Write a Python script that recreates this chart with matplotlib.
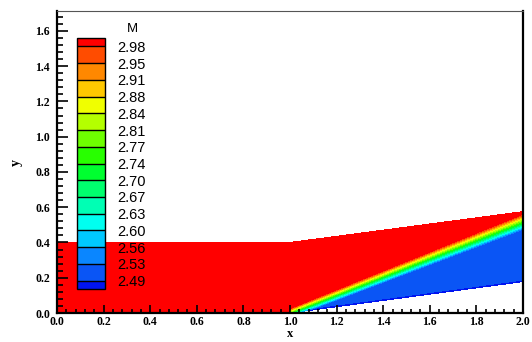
import numpy as np
import matplotlib
matplotlib.use("Agg")
import matplotlib.pyplot as plt
from matplotlib.colors import ListedColormap, BoundaryNorm
from matplotlib.ticker import MultipleLocator, FormatStrFormatter

# channel walls
wall_x = [0.0, 1.0, 2.0]
wall_lower = [0.0, 0.0, 0.178]
wall_upper = [0.40, 0.40, 0.575]

# oblique shock leaving the ramp corner
shock_x = [1.0, 2.0]
shock_y = [0.0, 0.518]
shock_width = [0.055, 0.092]

mach_inflow = 3.0
mach_post = 2.51
mach_wall = 2.47
wall_layer = 0.018

# contour levels of M and their legend labels
levels = [2.49, 2.525, 2.56, 2.595, 2.63, 2.665, 2.70, 2.735,
          2.77, 2.805, 2.84, 2.875, 2.91, 2.945, 2.98]
level_labels = ["2.49", "2.53", "2.56", "2.60", "2.63", "2.67", "2.70", "2.74",
                "2.77", "2.81", "2.84", "2.88", "2.91", "2.95", "2.98"]
# band colours, lowest (below 2.49) to highest (above 2.98)
band_colors = ["#0014f0", "#0a55f5", "#0a86ff", "#00c8ff", "#00fff0", "#00ffb4",
               "#00ff6e", "#00ff30", "#28ff00", "#6eff00", "#b4ff00", "#f0ff00",
               "#ffc800", "#ff8800", "#ff4c00", "#ff0000"]

# build the Mach field on a grid that follows the walls
xs = np.linspace(0.0, 2.0, 801)
eta = np.linspace(0.0, 1.0, 301)
X, E = np.meshgrid(xs, eta)
y_lo = np.interp(X, wall_x, wall_lower)
y_hi = np.interp(X, wall_x, wall_upper)
Y = y_lo + E * (y_hi - y_lo)

ys = np.interp(X, shock_x, shock_y)
w = np.interp(X, shock_x, shock_width)
s = np.clip((Y - ys) / w + 0.5, 0.0, 1.0)
s[X < 1.0] = 1.0
M = mach_post + (mach_inflow - mach_post) * s
near_wall = np.clip(1.0 - (Y - y_lo) / wall_layer, 0.0, 1.0)
M -= (mach_post - mach_wall) * near_wall * (1.0 - s)

cmap = ListedColormap(band_colors[1:-1])
cmap.set_under(band_colors[0])
cmap.set_over(band_colors[-1])
norm = BoundaryNorm(levels, cmap.N)

fig = plt.figure(figsize=(5.32, 3.42), dpi=100)
ax = fig.add_axes([57 / 532, 29 / 342, 466 / 532, 302 / 342])
cs = ax.contourf(X, Y, M, levels=levels, cmap=cmap, norm=norm, extend="both")

ax.set_xlim(0, 2.0)
ax.set_ylim(0, 1.713)
for a in (ax.xaxis, ax.yaxis):
    a.set_major_locator(MultipleLocator(0.2))
    a.set_minor_locator(MultipleLocator(0.04))
    a.set_major_formatter(FormatStrFormatter("%.1f"))

ax.tick_params(axis="x", which="major", direction="in", length=5.8, width=1.2, pad=2)
ax.tick_params(axis="x", which="minor", direction="in", length=2.9, width=1.2)
ax.tick_params(axis="y", which="major", direction="in", length=8, width=1.2, pad=5)
ax.tick_params(axis="y", which="minor", direction="in", length=4.3, width=1.2)
for lab in ax.get_xticklabels() + ax.get_yticklabels():
    lab.set_family("Liberation Serif")
    lab.set_weight("bold")
    lab.set_fontsize(8.5)

for side in ("left", "bottom", "right"):
    ax.spines[side].set_linewidth(1.6)
ax.spines["top"].set_linewidth(0.8)
ax.spines["top"].set_color("#555555")

ax.set_xlabel("x", family="Liberation Serif", weight="bold", fontsize=9, labelpad=0)
ax.set_ylabel("y", family="Liberation Serif", weight="bold", fontsize=10, labelpad=9)

# Tecplot style legend inside the plot
cax = fig.add_axes([77 / 532, (342 - 289) / 342, 27.5 / 532, 251 / 342])
cb = fig.colorbar(cs, cax=cax, extend="both", extendrect=True,
                  extendfrac=0.5 / 14, drawedges=True, ticks=levels)
cb.ax.set_yticklabels(level_labels)
cb.ax.tick_params(length=0, pad=9, labelsize=10.5)
for lab in cb.ax.get_yticklabels():
    lab.set_family("Liberation Sans")
cb.outline.set_linewidth(1.0)
cb.dividers.set_color("black")
cb.dividers.set_linewidth(1.0)
fig.text(132 / 532, 1 - 29 / 342, "M", family="Liberation Sans", fontsize=9.5,
         ha="center", va="center")

fig.savefig("out.png", dpi=100)
